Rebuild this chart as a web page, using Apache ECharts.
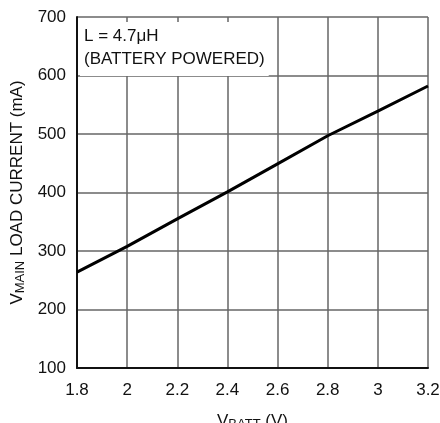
<!DOCTYPE html>
<html>
<head>
<meta charset="utf-8">
<script src="https://cdn.jsdelivr.net/npm/echarts@6/dist/echarts.min.js"></script>
<style>html,body{margin:0;padding:0;background:#fff;}#c{width:440px;height:423px;}</style>
</head>
<body>
<div id="c"></div>
<script>
var vbatt = [1.8, 2.0, 2.2, 2.4, 2.6, 2.8, 3.0, 3.2];
var loadCurrent = [264, 308, 355, 401, 449, 497, 539, 582];
var xTicks = ['1.8', '2', '2.2', '2.4', '2.6', '2.8', '3', '3.2'];
var yTicks = ['100', '200', '300', '400', '500', '600', '700'];
var noteLines = ['L = 4.7\u03bcH', '(BATTERY POWERED)'];

var FONT = '"Liberation Sans Narrow", "Liberation Sans", Arial, sans-serif';
var FS = 17;
var chart = echarts.init(document.getElementById('c'), null, {renderer: 'canvas'});
chart.setOption({
  animation: false,
  backgroundColor: '#fff',
  title: {
    text: noteLines.join('\n'),
    left: 80, top: 22,
    padding: [3, 4, 5, 4],
    backgroundColor: '#fff',
    textStyle: {fontFamily: FONT, fontSize: FS, fontWeight: 'normal', color: '#111', lineHeight: 23}
  },
  grid: {left: 77, right: 12, top: 17, bottom: 55, containLabel: false, outerBoundsMode: 'none'},
  xAxis: {
    type: 'value', min: 1.8, max: 3.2, interval: 0.2,
    axisLine: {show: true, onZero: false, lineStyle: {color: '#111', width: 2}},
    axisTick: {show: false},
    splitLine: {show: true, lineStyle: {color: '#666', width: 1.5}},
    axisLabel: {
      margin: 14, fontFamily: FONT, fontSize: FS, color: '#111',
      formatter: function (v) { var i = Math.round((v - 1.8) / 0.2); return xTicks[i]; }
    },
    name: '{v|V}{s|BATT}{v| (V)}',
    nameLocation: 'middle', nameGap: 44,
    nameTextStyle: {
      fontFamily: FONT, color: '#111',
      rich: {v: {fontFamily: FONT, fontSize: FS, color: '#111'},
             s: {fontFamily: FONT, fontSize: 13, color: '#111', verticalAlign: 'bottom', padding: [6, 0, 0, 0]}}
    }
  },
  yAxis: {
    type: 'value', min: 100, max: 700, interval: 100,
    axisLine: {show: true, onZero: false, lineStyle: {color: '#111', width: 2}},
    axisTick: {show: false},
    splitLine: {show: true, lineStyle: {color: '#666', width: 1.5}},
    axisLabel: {
      margin: 11, fontFamily: FONT, fontSize: FS, color: '#111',
      formatter: function (v) { return yTicks[Math.round((v - 100) / 100)]; }
    },
    name: '{v|V}{s|MAIN}{v| LOAD CURRENT (mA)}',
    nameLocation: 'middle', nameGap: 50,
    nameTextStyle: {
      fontFamily: FONT, color: '#111',
      rich: {v: {fontFamily: FONT, fontSize: FS, color: '#111'},
             s: {fontFamily: FONT, fontSize: 13, color: '#111', verticalAlign: 'bottom', padding: [6, 0, 0, 0]}}
    }
  },
  series: [{
    type: 'line',
    data: vbatt.map(function (x, i) { return [x, loadCurrent[i]]; }),
    showSymbol: false,
    lineStyle: {color: '#000', width: 3},
    z: 3
  }]
});
</script>
</body>
</html>
